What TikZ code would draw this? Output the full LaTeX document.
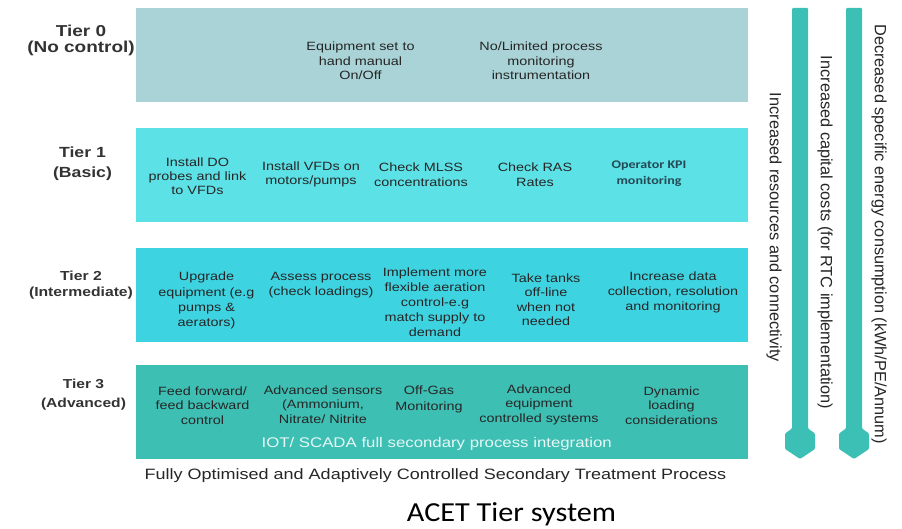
\documentclass[tikz,border=0pt]{standalone}
\usepackage{fontspec}
\setmainfont{Liberation Sans}[FakeStretch=1.2]
\newfontfamily\rotfont{Liberation Sans}
\newfontfamily\kpifont{Carlito}[FakeStretch=1.2]
\newfontfamily\titlefont{Carlito}[FakeStretch=1.1]
\definecolor{tierA}{HTML}{A9D3D6}
\definecolor{tierB}{HTML}{5CE1E6}
\definecolor{tierC}{HTML}{3ED3E1}
\definecolor{tierD}{HTML}{3DBFB4}
\definecolor{barcol}{HTML}{3CC0B5}
\definecolor{txt}{HTML}{262626}
\definecolor{lbl}{HTML}{333333}
\definecolor{kpi}{HTML}{234A55}
\definecolor{iot}{HTML}{E8F8F6}
\begin{document}
\begin{tikzpicture}[x=1pt,y=-1pt,
  tierbox/.style={draw=none, minimum width=612pt, minimum height=94pt, inner sep=0pt},
  item/.style={align=center, inner sep=0pt, text=txt, font=\fontsize{12}{14.5}\selectfont},
  tierlabel/.style={align=center, inner sep=0pt, text=lbl},
  rot/.style={rotate=-90, inner sep=0pt, text=txt, font=\rotfont\fontsize{16.3}{18}\selectfont},
  bar/.style={fill=barcol, draw=none, rounded corners=1pt}]
\useasboundingbox (0,0) rectangle (902,529);
\fill[white] (0,0) rectangle (902,529);

% tier boxes
\node[tierbox, fill=tierA] (b0) at (442,55) {};
\node[tierbox, fill=tierB] (b1) at (442,175) {};
\node[tierbox, fill=tierC] (b2) at (442,295) {};
\node[tierbox, fill=tierD] (b3) at (442,412) {};

% tier labels
\node[tierlabel, font=\bfseries\fontsize{15.8}{16.3}\selectfont] (l0) at (81,40.5) {Tier 0\\(No control)};
\node[tierlabel, font=\bfseries\fontsize{14.7}{20}\selectfont] (l1) at (82.5,164) {Tier 1\\(Basic)};
\node[tierlabel, font=\bfseries\fontsize{13.1}{16}\selectfont] (l2) at (81,285.5) {Tier 2\\(Intermediate)};
\node[tierlabel, font=\bfseries\fontsize{13}{19}\selectfont] (l3) at (83.5,394.5) {Tier 3\\(Advanced)};

% tier 0 items
\node[item] (t0a) at (360.5,61) {Equipment set to\\hand manual\\On/Off};
\node[item] (t0b) at (541,61) {No/Limited process\\monitoring\\instrumentation};

% tier 1 items
\node[item, font=\fontsize{12}{13.8}\selectfont] (t1a) at (197.5,176) {Install DO\\probes and link\\to VFDs};
\node[item] (t1b) at (311,174.5) {Install VFDs on\\motors/pumps};
\node[item] (t1c) at (421,174.5) {Check MLSS\\concentrations};
\node[item] (t1d) at (535,174.5) {Check RAS\\Rates};
\node[item, text=kpi, font=\kpifont\bfseries\fontsize{11.7}{16}\selectfont] (t1e) at (649,173.5) {Operator KPI\\monitoring};

% tier 2 items
\node[item, font=\fontsize{12}{15.2}\selectfont] (t2a) at (206.5,300.5) {Upgrade\\equipment (e.g\\pumps \&\\aerators)};
\node[item] (t2b) at (321,285) {Assess process\\(check loadings)};
\node[item, font=\fontsize{12}{14.9}\selectfont] (t2c) at (435,302.5) {Implement more\\flexible aeration\\control-e.g\\match supply to\\demand};
\node[item] (t2d) at (546,299.5) {Take tanks\\off-line\\when not\\needed};
\node[item, font=\fontsize{12}{15}\selectfont] (t2e) at (673,292.5) {Increase data\\collection, resolution\\and monitoring};

% tier 3 items
\node[item] (t3a) at (202.5,405.5) {Feed forward/\\feed backward\\control};
\node[item] (t3b) at (323,404.5) {Advanced sensors\\(Ammonium,\\Nitrate/ Nitrite};
\node[item, font=\fontsize{12}{15.5}\selectfont] (t3c) at (429,399.5) {Off-Gas\\Monitoring};
\node[item] (t3d) at (539,404.5) {Advanced\\equipment\\controlled systems};
\node[item] (t3e) at (671.5,405.5) {Dynamic\\loading\\considerations};
\node[inner sep=0pt, text=iot, font=\fontsize{14}{16}\selectfont] (iot) at (436.7,443.5) {IOT/ SCADA full secondary process integration};

% caption and title
\node[inner sep=0pt, text=txt, font=\fontsize{15}{17}\selectfont] (cap) at (435.5,475.5) {Fully Optimised and Adaptively Controlled Secondary Treatment Process};
\node[inner sep=0pt, anchor=base, text=black, font=\titlefont\fontsize{27.5}{30}\selectfont] (title) at (511.5,521.5) {ACET Tier system};

% vertical bars with hexagonal ends
\fill[bar] (792,8) -- (808,8) -- (808,428.5) -- (815,433.5) -- (815,449) -- (800,459) -- (785,449) -- (785,433.5) -- (792,428.5) -- cycle;
\fill[bar] (846,8) -- (862,8) -- (862,428.5) -- (869,433.5) -- (869,449) -- (854,459) -- (839,449) -- (839,433.5) -- (846,428.5) -- cycle;

% rotated labels
\node[rot] (r1) at (774,227.5) {Increased resources and connectivity};
\node[rot] (r2) at (825,232.5) {Increased capital costs (for RTC implementation)};
\node[rot] (r3) at (879,234) {Decreased specific energy consumption (kWh/PE/Annum)};
\end{tikzpicture}
\end{document}
